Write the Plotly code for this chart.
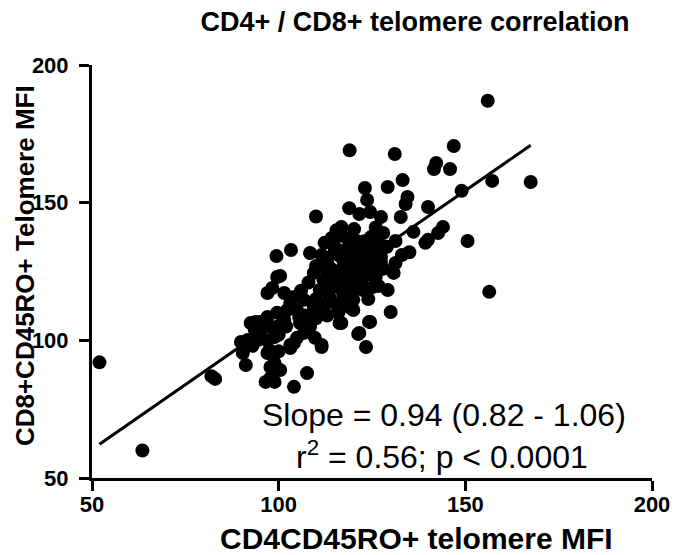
import plotly.graph_objects as go

# Data (CD4CD45RO+ telomere MFI vs CD8+CD45RO+ telomere MFI)
cd4_mfi = [
    52, 63.5, 82, 83, 119, 110, 99.4, 103.3, 100.4, 123.1,
    123.7, 118.9, 121.6, 124.5, 156, 131.1, 146.9, 142.2, 141.6, 145.9,
    133.2, 129.2, 157.2, 167.5, 149, 134.5, 134, 140, 132.7, 127.4,
    144, 142.7, 136.1, 131.3, 140, 139.3, 150.6, 131.3, 130.8, 156.4,
    126.8, 129.2, 130, 124.5, 123.4, 123.4, 125.3, 116.8, 120.2, 115.5,
    124.7, 112.3, 114.2, 118.7, 108.4, 111.5, 115, 120.2, 123.4, 117.3,
    121.6, 125.3, 91.7, 90.4, 91.2, 96.5, 98.9, 93.8, 97, 97,
    99.6, 97, 97.8, 94.4, 97.8, 98.9, 98.3, 101.5, 104.1, 106.8,
    102.3, 104.9, 109.4, 112, 109.4, 112.8, 117.3, 120, 114.7, 111,
    117.3, 118.9, 115.5, 112.8, 122.6, 125.3, 116.8, 120, 121.3, 111.5,
    109.7, 106.8, 104.1, 103.1, 99.6, 101.5, 105.7, 108.4, 107.6, 104.1,
    100.4, 97.8, 98.9, 97.5, 89.9, 92.5, 94.9, 93.6, 99.6, 103.1,
    105.5, 108.4, 103.1, 104.9, 109.7, 113.6, 120, 111.5, 116.3, 121.6,
    124.2, 127.4, 125.3, 123.4, 114, 116, 118, 113, 119, 121,
    116, 110, 113, 117, 122, 119, 115, 118, 121, 124,
    126, 127, 128, 126, 129, 133, 135, 128, 126.6, 125.5,
    127.4, 106, 108, 110, 112, 114, 116, 118, 120, 122,
    124, 113, 115, 117, 119, 121, 123, 107, 110, 113,
    116, 95, 97, 100, 102, 93, 100, 118, 120, 124,
    126,
]
cd8_mfi = [
    92, 60, 87, 86, 169, 145, 130.6, 132.8, 123.4, 155.3,
    151, 148, 145.9, 146.6, 187, 167.7, 170.6, 164.4, 162.2, 162.2,
    158.2, 155.7, 157.9, 157.5, 154.3, 152.1, 149.5, 148.4, 144.8, 144.8,
    141.2, 139, 139.4, 136.1, 136.5, 135.4, 136.1, 128.1, 124.5, 117.6,
    119.7, 118.3, 110.3, 106.7, 97.6, 119, 133.9, 141.2, 140.4, 140,
    137.5, 135.4, 137.2, 136.5, 131.7, 131, 132.1, 132.1, 132.8, 129.2,
    129.9, 129.2, 100.1, 95.4, 91, 84.9, 84.9, 106.7, 108.5, 117.2,
    123, 95.4, 90.3, 100.1, 104.9, 101.2, 119, 117.2, 115.7, 114.7,
    111, 111, 112.1, 111, 124.5, 125.6, 126.6, 121.9, 119.4, 118.3,
    115.7, 112.1, 112.8, 113.6, 118.3, 119.4, 106.3, 111, 102.3, 97.6,
    100.9, 102.7, 99, 97.2, 104.9, 107.4, 106.3, 105.6, 88.1, 83.1,
    89.2, 86.3, 91.8, 96.5, 99.4, 106.3, 106.7, 103.8, 110, 113.6,
    108.5, 104.9, 98.3, 100.9, 113.6, 115.7, 114.7, 98.3, 106.3, 102.7,
    106.7, 128.5, 127.4, 125.6, 123, 122, 120, 128, 124, 126,
    131, 127, 120, 118, 122, 117, 125, 133, 136, 124,
    123, 131, 139, 141, 134, 131, 132, 126, 135.7, 132.8,
    130.3, 118, 121, 115, 122, 126, 124, 127, 125, 128,
    130, 130, 134, 138, 130, 134, 136, 109, 108, 109,
    110, 103, 100, 102, 105, 98, 96, 121, 118, 115,
    126,
]

# Regression summary shown in the reference
slope = 0.94
intercept = 13.4
slope_text = "Slope = 0.94 (0.82 - 1.06)"
r2_text = "r<sup>2</sup> = 0.56; p &lt; 0.0001"

x_ticks = [50, 100, 150, 200]
y_ticks = [50, 100, 150, 200]

FONT = "Liberation Sans, Arial, Helvetica, sans-serif"

fit_x = [min(cd4_mfi), max(cd4_mfi)]
fit_y = [intercept + slope * v for v in fit_x]

fig = go.Figure()
fig.add_trace(go.Scatter(
    x=cd4_mfi, y=cd8_mfi, mode="markers",
    marker=dict(size=14, color="black", line=dict(width=0)),
    cliponaxis=False, showlegend=False,
))
fig.add_trace(go.Scatter(
    x=fit_x, y=fit_y, mode="lines",
    line=dict(color="black", width=3),
    cliponaxis=False, showlegend=False,
))

axis_common = dict(
    showline=True, linewidth=3, linecolor="black",
    ticks="outside", ticklen=10, tickwidth=2.5, tickcolor="black",
    showgrid=False, zeroline=False, mirror=False,
    tickfont=dict(family=FONT, size=22, color="black", weight="bold"),
)

# page body has an 8px default margin: figure is shrunk by 8px and offsets reduced
W, H = 674, 547
L, T = 84, 57

fig.update_layout(
    width=W, height=H,
    margin=dict(l=L, r=21, t=T, b=77),
    paper_bgcolor="white", plot_bgcolor="white",
    title=dict(
        text="CD4+ / CD8+ telomere correlation",
        x=(415 - 8) / W, xref="container", xanchor="center",
        y=1 - (22 - 8) / H, yref="container", yanchor="middle",
        font=dict(family=FONT, size=27, color="black", weight="bold"),
    ),
    xaxis=dict(range=[50, 200], tickvals=x_ticks, **axis_common),
    yaxis=dict(range=[50, 200], tickvals=y_ticks, ticklabelstandoff=6, **axis_common),
    annotations=[
        dict(text="CD4CD45RO+ telomere MFI", xref="paper", yref="paper",
             x=(422 - 92) / 569, y=(478 - 538) / 413, showarrow=False,
             xanchor="center", yanchor="middle",
             font=dict(family=FONT, size=30, color="black", weight="bold")),
        dict(text="CD8+CD45RO+ Telomere MFI", xref="paper", yref="paper",
             x=(24 - 92) / 569, y=(478 - 266) / 413, showarrow=False,
             textangle=-90, xanchor="center", yanchor="middle",
             font=dict(family=FONT, size=26, color="black", weight="bold")),
        dict(text=slope_text, xref="paper", yref="paper",
             x=(450 - 92) / 569, y=(478 - 415) / 413, showarrow=False,
             xanchor="center", yanchor="middle",
             font=dict(family=FONT, size=32, color="black")),
        dict(text=r2_text, xref="paper", yref="paper",
             x=(448 - 92) / 569, y=(478 - 455) / 413, showarrow=False,
             xanchor="center", yanchor="middle",
             font=dict(family=FONT, size=32, color="black")),
    ],
)

try:
    fig.update_xaxes(ticklabelstandoff=-5)
except ValueError:
    fig.update_xaxes(ticklabelstandoff=0)

fig.write_html("out.html")
